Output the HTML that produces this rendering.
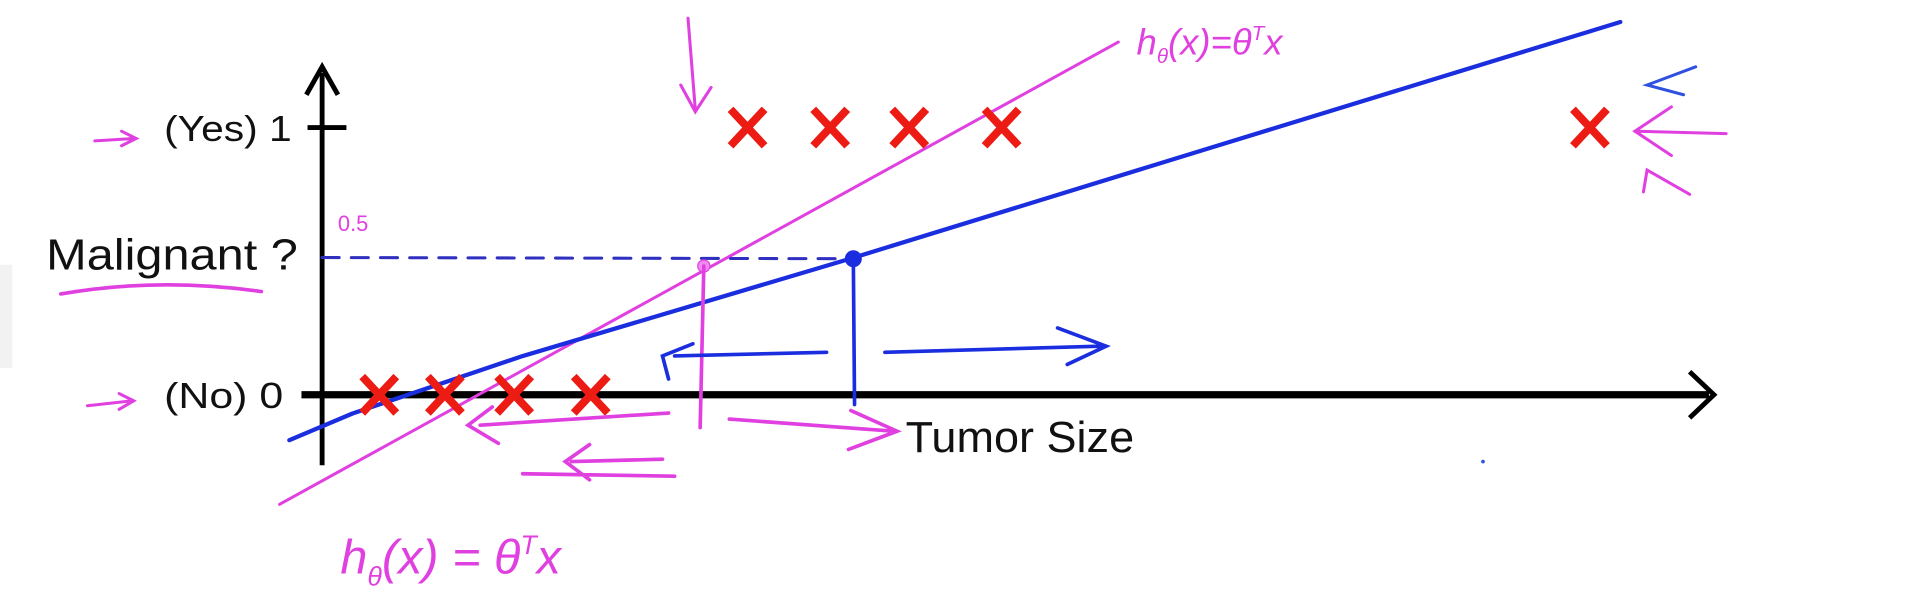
<!DOCTYPE html>
<html><head><meta charset="utf-8"><style>
html,body{margin:0;padding:0;background:#fff;overflow:hidden}
svg{display:block}
text{font-family:"Liberation Sans",sans-serif}
</style></head><body>
<svg id="chart" width="1906" height="594" viewBox="0 0 1568 489" preserveAspectRatio="none" xmlns="http://www.w3.org/2000/svg">
<rect x="0" y="0" width="1568" height="489" fill="#fff"/>
<rect x="0" y="218" width="10" height="85" fill="#f2f2f2"/>
<g id="axes">
<line x1="265" y1="383" x2="265" y2="60" stroke="#000" stroke-width="4"/>
<path d="M252,78 L265,55 L278,78" fill="none" stroke="#000" stroke-width="4"/>
<line x1="248" y1="325" x2="1406" y2="325" stroke="#000" stroke-width="6"/>
<path d="M1390,306 L1410,325 L1390,344" fill="none" stroke="#000" stroke-width="4"/>
<line x1="253" y1="105" x2="285" y2="105" stroke="#000" stroke-width="4"/>
<text x="135" y="116" font-size="30" textLength="105" lengthAdjust="spacingAndGlyphs" fill="#111">(Yes) 1</text>
<text x="135" y="336" font-size="30" textLength="98" lengthAdjust="spacingAndGlyphs" fill="#111">(No) 0</text>
<text x="38" y="222" font-size="36" textLength="207" lengthAdjust="spacingAndGlyphs" fill="#111">Malignant ?</text>
<text x="745" y="372" font-size="36" textLength="188" lengthAdjust="spacingAndGlyphs" fill="#111">Tumor Size</text>
</g>
<g id="marks"></g>
<g fill="none" stroke-linecap="round">
<path d="M265,212 L700,213" stroke="#3030c0" stroke-width="2.5" stroke-dasharray="14,10"/>
<circle cx="702" cy="213" r="7" fill="#1a2ee0" stroke="none"/>
<circle cx="579" cy="219" r="5" fill="#f08af0" stroke="#e040e0"/>
<line x1="702" y1="213" x2="703" y2="333" stroke="#1a2ee0" stroke-width="3"/>
<line x1="579" y1="219" x2="576" y2="352" stroke="#e040e0" stroke-width="3"/>
<path d="M680,290 L555,293 M570,283 L545,293 L550,312" stroke="#1a2ee0" stroke-width="3"/>
<path d="M728,290 L905,285 M870,270 L910,285 L878,300" stroke="#1a2ee0" stroke-width="3"/>
<path d="M600,345 L735,355 M700,338 L738,355 L698,370" stroke="#e040e0" stroke-width="3"/>
<path d="M550,340 L395,350 M405,335 L385,350 L410,365" stroke="#e040e0" stroke-width="3"/>
<path d="M545,378 L470,380 M485,366 L465,380 L485,395 M430,390 L555,392" stroke="#e040e0" stroke-width="3"/>
<path d="M50,242 Q130,228 215,240" stroke="#e040e0" stroke-width="3"/>
<path d="M78,116 L110,114 M100,108 L112,114 L100,120" stroke="#e040e0" stroke-width="2.5"/>
<path d="M72,334 L108,330 M98,324 L110,330 L98,337" stroke="#e040e0" stroke-width="2.5"/>
<path d="M566,15 L572,90 M560,70 L572,92 L585,72" stroke="#e040e0" stroke-width="2.5"/>
<path d="M1395,55 L1355,70 L1385,78" stroke="#3050e0" stroke-width="2.5"/>
<path d="M1420,110 L1345,108 M1375,88 L1345,108 L1375,128" stroke="#e040e0" stroke-width="2.5"/>
<path d="M1390,160 L1355,140 L1352,158" stroke="#e040e0" stroke-width="2.5"/>
<text x="278" y="190" font-size="18" fill="#e040e0" stroke="none">0.5</text>
<text x="280" y="472" font-size="40" fill="#e040e0" stroke="none" font-style="italic">h<tspan font-size="22" dy="10">θ</tspan><tspan dy="-10">(x) = θ</tspan><tspan font-size="22" dy="-16">T</tspan><tspan dy="16">x</tspan></text>
<text x="935" y="45" font-size="30" fill="#e040e0" stroke="none" font-style="italic">h<tspan font-size="17" dy="7">θ</tspan><tspan dy="-7">(x)=θ</tspan><tspan font-size="17" dy="-12">T</tspan><tspan dy="12">x</tspan></text>
<circle cx="1220" cy="380" r="1.5" fill="#3050e0" stroke="none"/>
</g>
</svg>
<script>
const negSizes = [4.7, 10.1, 15.8, 22.1];
const negLabels = [0, 0, 0, 0];
const posSizes = [35.0, 41.8, 48.3, 55.9, 104.3];
const posLabels = [1, 1, 1, 1, 1];
const blueFitX = [-2.7, 2.5, 16.5, 43.5, 73.5, 106.8];
const blueFitY = [-0.17, -0.07, 0.145, 0.51, 0.93, 1.395];
const pinkFitX = [-3.5, 65.5];
const pinkFitY = [-0.41, 1.32];

function xScale(v){ return 265 + v * 10; }
function yScale(v){ return 325 - v * 220; }

const NS = 'http://www.w3.org/2000/svg';
const g = document.getElementById('marks');

function line(xs, ys, color, w, name){
  const p = document.createElementNS(NS, 'path');
  let d = '';
  for (let i = 0; i < xs.length; i++) d += (i ? 'L' : 'M') + xScale(xs[i]) + ',' + yScale(ys[i]);
  p.setAttribute('d', d);
  p.setAttribute('fill', 'none');
  p.setAttribute('stroke', color);
  p.setAttribute('stroke-width', w);
  p.setAttribute('stroke-linecap', 'round');
  p.setAttribute('stroke-linejoin', 'round');
  
  
  g.appendChild(p);
}
line(pinkFitX, pinkFitY, '#e040e0', 2.5, 'pink-fit-line');
line(blueFitX, blueFitY, '#1a2ee0', 3.5, 'blue-fit-line');

function cross(xv, yv, name){
  const cx = xScale(xv), cy = yScale(yv);
  const p = document.createElementNS(NS, 'path');
  p.setAttribute('d', `M${cx-14},${cy-15}L${cx+14},${cy+15}M${cx+14},${cy-15}L${cx-14},${cy+15}`);
  p.setAttribute('stroke', '#ec1c14');
  p.setAttribute('stroke-width', 6.5);
  p.setAttribute('fill', 'none');
  
  
  g.appendChild(p);
}
negSizes.forEach((v, i) => cross(v, negLabels[i], 'benign-point-' + (i + 1)));
posSizes.forEach((v, i) => cross(v, posLabels[i], 'malignant-point-' + (i + 1)));
</script>
</body></html>
